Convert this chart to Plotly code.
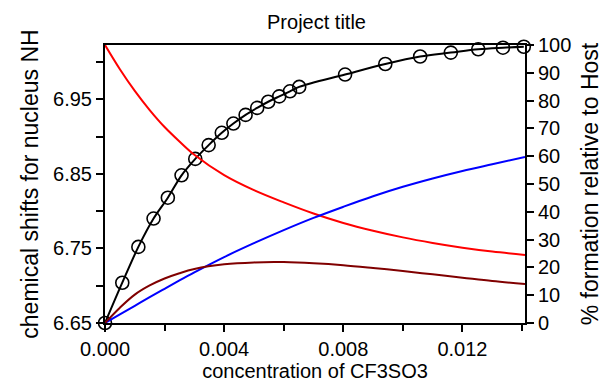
import plotly.graph_objects as go

# observed chemical shifts (left axis)
conc_obs = [0.0, 0.00058, 0.00112, 0.00163, 0.00211, 0.00257, 0.00303, 0.00348,
            0.00392, 0.00431, 0.00472, 0.00511, 0.00548, 0.00585, 0.00621, 0.00652,
            0.00806, 0.00941, 0.01058, 0.01161, 0.01253, 0.01336, 0.01406]
shift_obs = [6.650, 6.704, 6.752, 6.790, 6.818, 6.848, 6.870, 6.8885,
             6.905, 6.9174, 6.929, 6.9384, 6.9466, 6.9538, 6.9606, 6.9665,
             6.9831, 6.9972, 7.0073, 7.0125, 7.017, 7.0191, 7.0204]

# species distribution (% relative to host, right axis)
conc_calc = [0.0, 0.0005, 0.001, 0.0015, 0.002, 0.0025, 0.003, 0.004, 0.005,
             0.006, 0.007, 0.008, 0.009, 0.010, 0.011, 0.012, 0.013, 0.0141]
pct_free = [100, 91.3, 83.5, 76.6, 70.5, 65.3, 60.5, 53.2, 47.8,
            43.4, 39.4, 36.0, 33.2, 30.8, 28.8, 27.1, 25.7, 24.5]
pct_c1 = [0, 3.1, 6.2, 9.3, 12.3, 15.3, 18.2, 23.7, 28.7,
          33.4, 37.8, 41.8, 45.6, 49.0, 52.0, 54.7, 57.1, 59.7]
pct_c2 = [0, 5.5, 10.2, 13.5, 16.0, 17.9, 19.4, 21.1, 21.8,
          21.9, 21.5, 20.8, 19.8, 18.7, 17.5, 16.3, 15.1, 14.0]

FONT = "Arial, Liberation Sans, sans-serif"

fig = go.Figure()
fig.add_trace(go.Scatter(x=conc_calc, y=pct_free, yaxis="y2", mode="lines",
                         line=dict(color="#ff0000", width=2, shape="spline"), showlegend=False))
fig.add_trace(go.Scatter(x=conc_calc, y=pct_c1, yaxis="y2", mode="lines",
                         line=dict(color="#0000ff", width=2, shape="spline"), showlegend=False))
fig.add_trace(go.Scatter(x=conc_calc, y=pct_c2, yaxis="y2", mode="lines",
                         line=dict(color="#800000", width=2, shape="spline"), showlegend=False))
fig.add_trace(go.Scatter(x=conc_obs, y=shift_obs, mode="lines+markers",
                         line=dict(color="black", width=2, shape="spline"),
                         marker=dict(symbol="circle-open", size=13, color="black",
                                     line=dict(width=1.6, color="black")),
                         cliponaxis=False, showlegend=False))

fig.update_layout(
    width=611, height=390,
    margin=dict(l=105, r=83, t=45, b=62),
    paper_bgcolor="white", plot_bgcolor="white",
    font=dict(family=FONT, size=20, color="black"),
    title=dict(text="Project title", x=(105 + 528) / 2 / 611, xanchor="center",
               y=1 - 22 / 390, yanchor="middle", yref="container",
               font=dict(family=FONT, size=20, color="black")),
    xaxis=dict(range=[0, 0.0141], dtick=0.004, tick0=0, tickformat=".3f",
               showline=True, linecolor="black", linewidth=2, mirror=True,
               ticks="outside", ticklen=7, tickwidth=1.5, tickcolor="black",
               minor=dict(dtick=0.002, ticks="outside", ticklen=6, tickcolor="black", tickwidth=1.5),
               showgrid=False, zeroline=False,
               tickfont=dict(size=20),
               title=dict(text="concentration of CF3SO3", font=dict(size=20), standoff=4)),
    yaxis=dict(range=[6.65, 7.0227], tickvals=[6.65, 6.75, 6.85, 6.95], tickformat=".2f",
               showline=True, linecolor="black", linewidth=2,
               ticks="outside", ticklen=7, tickwidth=1.5, tickcolor="black",
               minor=dict(tickvals=[6.70, 6.80, 6.90, 7.00], ticks="outside", ticklen=7,
                          tickcolor="black", tickwidth=1.5),
               showgrid=False, zeroline=False, tickfont=dict(size=20),
               title=dict(text="chemical shifts for nucleus NH", font=dict(size=23), standoff=8)),
    yaxis2=dict(range=[0, 100], dtick=10, overlaying="y", side="right",
                showline=True, linecolor="black", linewidth=2,
                ticks="outside", ticklen=7, tickwidth=1.5, tickcolor="black",
                showgrid=False, zeroline=False, tickfont=dict(size=20),
                title=dict(text="% formation relative to Host", font=dict(size=23), standoff=12)),
)

fig.write_html("out.html")
